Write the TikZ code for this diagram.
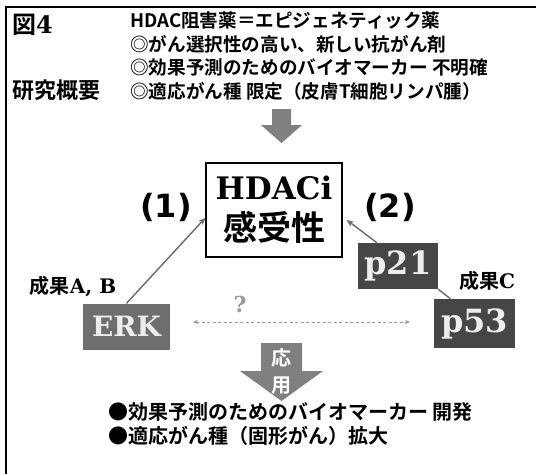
\documentclass[tikz,border=0pt]{standalone}
\usepackage{fontspec}
\usetikzlibrary{arrows.meta}
\newfontfamily\jp{Noto Sans CJK JP}[UprightFont=*, BoldFont=* Bold]
\newfontfamily\slab{DejaVu Serif}
\newfontfamily\dsans{DejaVu Sans}
\definecolor{bigarrow}{HTML}{808080}
\definecolor{linegray}{HTML}{6A6A6A}
\definecolor{erkgray}{HTML}{6E6E6E}
\definecolor{pgray}{HTML}{464646}
\definecolor{boxtext}{HTML}{EDEDED}
\definecolor{qgray}{HTML}{9A9A9A}
\tikzset{
  genebox/.style={inner sep=0pt, text=boxtext, font=\slab\bfseries\fontsize{28}{30}\selectfont},
  conn/.style={draw=linegray, line width=1.4pt, -{Stealth[length=7pt,width=6pt]}},
  label/.style={inner sep=0pt, anchor=west},
}
\begin{document}
\begin{tikzpicture}[x=1pt,y=-1pt]
\useasboundingbox (0,0) rectangle (536,474);
\fill[white] (0,0) rectangle (536,474);
% frame
\draw[line width=2.5pt] (6,474) -- (6,7) -- (536,7);
% titles
\node[label] (fig) at (12,25) {{\jp\bfseries\fontsize{24}{26}\selectfont 図}{\slab\bfseries\fontsize{24}{26}\selectfont 4}};
\node[label] (overview) at (12,90) {\jp\bfseries\fontsize{22}{26}\selectfont 研究概要};
\node[anchor=north west, inner sep=0pt, align=left, font=\jp\bfseries\fontsize{18.6}{23.6}\selectfont] (head) at (130,11.5)
  {HDAC阻害薬＝エピジェネティック薬\\◎がん選択性の高い、新しい抗がん剤\\◎効果予測のためのバイオマーカー 不明確\\◎適応がん種 限定（皮膚T細胞リンパ腫）};
% top arrow
\fill[bigarrow] (272,109) -- (291,109) -- (291,125) -- (302,125) -- (281.5,143) -- (261,125) -- (272,125) -- cycle;
% central box
\node[draw, line width=1.5pt, minimum width=136pt, minimum height=94pt, inner sep=0pt] (hd) at (274,210) {};
\node[inner sep=0pt, font=\slab\bfseries\fontsize{31}{34}\selectfont] (hdtop) at (274,188) {HDACi};
\node[inner sep=0pt, font=\jp\bfseries\fontsize{34}{36}\selectfont] (hdbot) at (274,227) {感受性};
\node[inner sep=0pt, font=\dsans\bfseries\fontsize{32}{34}\selectfont] (one) at (166,207) {(1)};
\node[inner sep=0pt, font=\dsans\bfseries\fontsize{32}{34}\selectfont] (two) at (390,207) {(2)};
% gene boxes
\node[genebox, fill=erkgray, minimum width=87pt, minimum height=46pt] (erk) at (126.5,326.5) {ERK};
\node[genebox, fill=pgray, minimum width=80pt, minimum height=46pt, font=\slab\bfseries\fontsize{32}{34}\selectfont] (p21) at (398,266) {p21};
\node[genebox, fill=pgray, minimum width=81pt, minimum height=49pt, font=\slab\bfseries\fontsize{32}{34}\selectfont] (p53) at (474.5,323.5) {p53};
\node[inner sep=0pt] (resAB) at (73,287) {{\jp\bfseries\fontsize{20}{22}\selectfont 成果}{\slab\bfseries\fontsize{20}{22}\selectfont A, B}};
\node[inner sep=0pt] (resC) at (487,281) {{\jp\bfseries\fontsize{20}{22}\selectfont 成果}{\slab\bfseries\fontsize{20}{22}\selectfont C}};
% connectors
\draw[conn] (erk.north) -- ([yshift=-8pt]hd.west);
\draw[conn] ([xshift=-21pt]p21.north) -- ([xshift=4pt,yshift=-10pt]hd.east);
\draw[draw=linegray, line width=1.4pt] (p21.south east) -- ([xshift=-24pt]p53.north);
\coordinate (dl) at (193,322);
\coordinate (dr) at (410,322);
\draw[draw=qgray, line width=1pt, dash pattern=on 3pt off 2.5pt, {Stealth[length=5pt,width=4pt]}-{Stealth[length=5pt,width=4pt]}] (dl) -- (dr);
\node[inner sep=0pt, text=qgray, font=\slab\bfseries\fontsize{22}{24}\selectfont] (q) at (240,304) {?};
% bottom arrow
\fill[bigarrow] (261,343) -- (302,343) -- (302,371) -- (323,371) -- (281.5,401) -- (240,371) -- (261,371) -- cycle;
\node[inner sep=0pt, text=white, font=\jp\bfseries\fontsize{20}{22}\selectfont] (ou) at (281.5,358) {応};
\node[inner sep=0pt, text=white, font=\jp\bfseries\fontsize{20}{22}\selectfont] (you) at (281.5,386) {用};
\node[anchor=north west, inner sep=0pt, align=left, font=\jp\bfseries\fontsize{20}{24}\selectfont] (result) at (108,402)
  {●効果予測のためのバイオマーカー 開発\\●適応がん種（固形がん）拡大};
\end{tikzpicture}
\end{document}
